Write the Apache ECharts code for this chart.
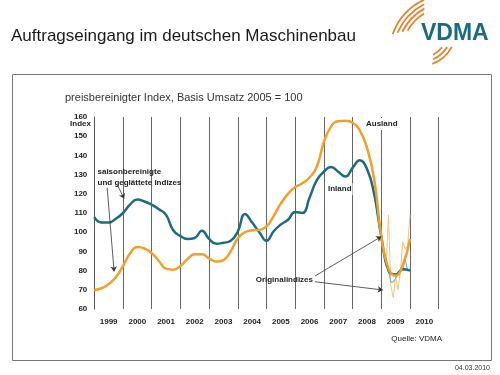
<!DOCTYPE html>
<html>
<head>
<meta charset="utf-8">
<script src="https://cdn.jsdelivr.net/npm/echarts@6/dist/echarts.min.js"></script>
<style>
  html, body { margin: 0; padding: 0; background: #fff; }
  #chart { width: 500px; height: 375px; }
</style>
</head>
<body>
<div id="chart"></div>
<script>
// year categories shown under the chart
const years = ['1999', '2000', '2001', '2002', '2003', '2004', '2005', '2006', '2007', '2008', '2009', '2010'];

// quarterly points for the smoothed (seasonally adjusted) indices
const smoothTime = [
  1999.0, 1999.25, 1999.5, 1999.75, 2000.0, 2000.25, 2000.5, 2000.75,
  2001.0, 2001.25, 2001.5, 2001.75, 2002.0, 2002.25, 2002.5, 2002.75,
  2003.0, 2003.25, 2003.5, 2003.75, 2004.0, 2004.25, 2004.5, 2004.75,
  2005.0, 2005.25, 2005.5, 2005.75, 2006.0, 2006.25, 2006.5, 2006.75,
  2007.0, 2007.25, 2007.5, 2007.75, 2008.0, 2008.25, 2008.5, 2008.75,
  2009.0, 2009.25, 2009.5, 2009.75, 2010.0
];
const inlandSmooth = [
  107.8, 105, 105, 107, 110, 114.5, 117, 116,
  114.3, 112, 109, 101, 98, 96.5, 97, 100.8,
  96.5, 94, 94.5, 95.5, 100.3, 109.5, 105, 100,
  95.5, 100.5, 104, 106.5, 110.5, 110, 118, 127,
  131.5, 134, 131.5, 129, 133.5, 137.5, 133, 120,
  97.7, 80, 78, 80.7, 80
];
const auslandSmooth = [
  69.9, 70.8, 73, 76.5, 82.4, 89, 92.3, 91.5,
  89.1, 85, 81, 80.5, 82.4, 86, 88.5, 88.5,
  86.4, 84.7, 85.5, 90, 96.9, 100, 101, 101.2,
  103, 108.5, 115, 120, 123.5, 125.5, 128.5, 134,
  147, 155, 157.8, 158, 157, 153, 144, 128,
  98, 81, 77.3, 83, 96.5
];

// monthly original (unadjusted) indices at the end of the series
const origTime = [
  2008.5, 2008.583, 2008.667, 2008.75, 2008.833, 2008.917, 2009.0,
  2009.083, 2009.167, 2009.25, 2009.333, 2009.417, 2009.5, 2009.583,
  2009.667, 2009.75, 2009.833, 2009.917, 2010.0
];
const inlandOrig = [133, 130, 126, 120, 112, 104, 96, 90, 86, 80, 74, 74, 76, 78, 79, 81, 86, 80, 81];
const auslandOrig = [145, 140, 133, 126, 116, 106, 95, 88, 82, 109, 72, 66, 77, 70, 80, 95, 91, 93, 109];

// annotation arrows in data coordinates [year, index]
const arrowLines = [
  [[1999.80, 124.7], [2000.04, 117.5]],
  [[1999.45, 123.1], [1999.69, 79.5]],
  [[2006.69, 77.2], [2009.0, 97.7]],
  [[2006.69, 74.2], [2009.05, 69.9]]
];

const FONT = "'Liberation Sans', Arial, sans-serif";
const BLUE = '#1d6b82';
const ORANGE = '#f2a02a';

const pairs = (xs, ys) => xs.map((x, i) => [x, ys[i]]);

const chart = echarts.init(document.getElementById('chart'));

const option = {
  animation: false,
  backgroundColor: '#fff',
  grid: { left: 94.3, right: 61.3, top: 117, bottom: 66 },
  xAxis: [
    {
      type: 'category',
      data: years,
      boundaryGap: true,
      axisLine: { show: false },
      axisTick: { show: false },
      axisLabel: { color: '#222', fontSize: 8, fontWeight: 'bold', fontFamily: FONT, margin: 9 },
      splitLine: { show: true, lineStyle: { color: '#666', width: 1 } }
    },
    { type: 'value', min: 1999, max: 2011, show: false }
  ],
  yAxis: {
    type: 'value',
    min: 60,
    max: 160,
    interval: 10,
    axisLine: { show: true, lineStyle: { color: '#555', width: 1 } },
    axisTick: { show: false },
    splitLine: { show: false },
    axisLabel: { color: '#222', fontSize: 8, fontWeight: 'bold', fontFamily: FONT, margin: 7 }
  },
  series: [
    {
      name: 'Ausland original',
      type: 'line',
      xAxisIndex: 1,
      data: pairs(origTime, auslandOrig),
      showSymbol: false,
      lineStyle: { color: '#f7c37e', width: 1 },
      z: 2
    },
    {
      name: 'Inland original',
      type: 'line',
      xAxisIndex: 1,
      data: pairs(origTime, inlandOrig),
      showSymbol: false,
      lineStyle: { color: '#6ea9bb', width: 1 },
      z: 2
    },
    {
      name: 'Inland',
      type: 'line',
      xAxisIndex: 1,
      data: pairs(smoothTime, inlandSmooth),
      smooth: true,
      showSymbol: false,
      lineStyle: { color: BLUE, width: 2.5 },
      z: 3
    },
    {
      name: 'Ausland',
      type: 'line',
      xAxisIndex: 1,
      data: pairs(smoothTime, auslandSmooth),
      smooth: true,
      showSymbol: false,
      lineStyle: { color: ORANGE, width: 2.5 },
      z: 4,
      markLine: {
        silent: true,
        symbol: ['none', 'arrow'],
        symbolSize: 5,
        label: { show: false },
        lineStyle: { color: '#333', width: 0.8, type: 'solid' },
        data: arrowLines.map(l => [{ coord: l[0] }, { coord: l[1] }])
      }
    }
  ],
  graphic: [
    { type: 'rect', shape: { x: 12.5, y: 74.5, width: 479, height: 286 }, style: { fill: 'none', stroke: '#777', lineWidth: 1 } },
    { type: 'text', left: 11, top: 28, style: { text: 'Auftragseingang im deutschen Maschinenbau', font: '17px ' + FONT, fill: '#1a1a1a' } },
    { type: 'text', left: 65, top: 92, style: { text: 'preisbereinigter Index, Basis Umsatz 2005 = 100', font: '11px ' + FONT, fill: '#333' } },
    { type: 'text', x: 91, y: 124, style: { text: 'Index', font: 'bold 8px ' + FONT, fill: '#222', align: 'right', verticalAlign: 'middle' } },
    { type: 'text', x: 97.5, y: 166, z: 10, style: { text: 'saisonbereinigte\nund geglättete Indizes', font: 'bold 8px ' + FONT, lineHeight: 11, fill: '#222' } },
    { type: 'text', x: 365, y: 124, z: 10, style: { text: 'Ausland', font: 'bold 8px ' + FONT, fill: '#222', verticalAlign: 'middle', backgroundColor: '#fff', padding: [2, 1] } },
    { type: 'text', x: 327, y: 189, z: 10, style: { text: 'Inland', font: 'bold 8px ' + FONT, fill: '#222', verticalAlign: 'middle', backgroundColor: '#fff', padding: [2, 1] } },
    { type: 'text', x: 313, y: 280, z: 10, style: { text: 'Originalindizes', font: 'bold 8px ' + FONT, fill: '#222', align: 'right', verticalAlign: 'middle' } },
    { type: 'text', x: 442, y: 339, style: { text: 'Quelle: VDMA', font: '8px ' + FONT, fill: '#222', align: 'right', verticalAlign: 'middle' } },
    { type: 'text', x: 490, y: 368, style: { text: '04.03.2010', font: '7px ' + FONT, fill: '#333', align: 'right', verticalAlign: 'middle' } },
    // VDMA logo
    { type: 'text', x: 421, y: 34, style: { text: 'VDMA', font: 'bold 23px ' + FONT, fill: '#1a6b82', verticalAlign: 'middle' } },
    { type: 'arc', shape: { cx: 450, cy: 55, r: 61, startAngle: 200 * Math.PI / 180, endAngle: 245 * Math.PI / 180, clockwise: true }, style: { stroke: '#e8822a', fill: 'none', lineWidth: 1.8 } },
    { type: 'arc', shape: { cx: 450, cy: 55, r: 57, startAngle: 203 * Math.PI / 180, endAngle: 243 * Math.PI / 180, clockwise: true }, style: { stroke: '#e8822a', fill: 'none', lineWidth: 1.8 } },
    { type: 'arc', shape: { cx: 450, cy: 55, r: 53, startAngle: 206 * Math.PI / 180, endAngle: 241 * Math.PI / 180, clockwise: true }, style: { stroke: '#e8822a', fill: 'none', lineWidth: 1.8 } },
    { type: 'arc', shape: { cx: 450, cy: 55, r: 49, startAngle: 210 * Math.PI / 180, endAngle: 238 * Math.PI / 180, clockwise: true }, style: { stroke: '#e8822a', fill: 'none', lineWidth: 1.8 } },
    { type: 'arc', shape: { cx: 420, cy: 30, r: 36, startAngle: 28 * Math.PI / 180, endAngle: 70 * Math.PI / 180, clockwise: true }, style: { stroke: '#e8822a', fill: 'none', lineWidth: 1.8 } },
    { type: 'arc', shape: { cx: 420, cy: 30, r: 32, startAngle: 32 * Math.PI / 180, endAngle: 66 * Math.PI / 180, clockwise: true }, style: { stroke: '#e8822a', fill: 'none', lineWidth: 1.8 } },
    { type: 'arc', shape: { cx: 420, cy: 30, r: 28, startAngle: 38 * Math.PI / 180, endAngle: 62 * Math.PI / 180, clockwise: true }, style: { stroke: '#e8822a', fill: 'none', lineWidth: 1.8 } }
  ]
};

chart.setOption(option);
</script>
</body>
</html>
